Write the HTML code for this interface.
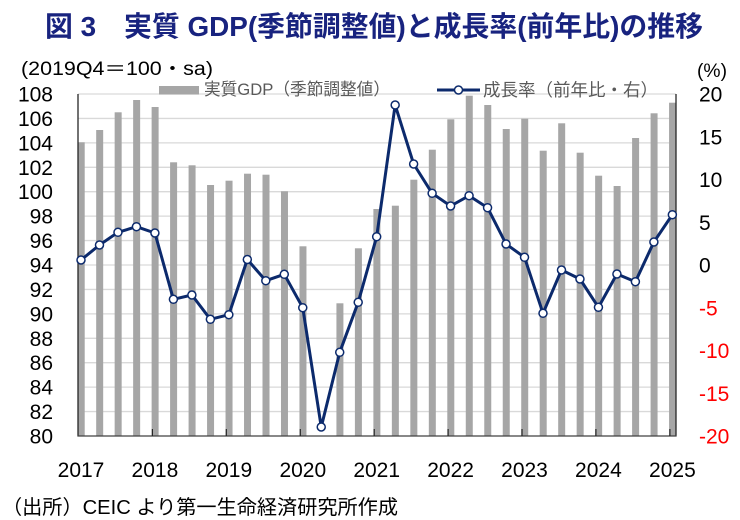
<!DOCTYPE html>
<html><head><meta charset="utf-8"><style>
html,body{margin:0;padding:0;background:#fff;}
svg{display:block;}
text{font-family:"Liberation Sans","Noto Sans CJK JP",sans-serif;}
</style></head><body>
<svg width="740" height="520" viewBox="0 0 740 520" xmlns="http://www.w3.org/2000/svg">
<rect width="740" height="520" fill="#fff"/>
<!-- title -->
<text x="45" y="36" font-size="28" font-weight="bold" fill="#18237f" textLength="658" lengthAdjust="spacingAndGlyphs">図 3　実質 GDP(季節調整値)と成長率(前年比)の推移</text>
<text x="21" y="75" font-size="19" fill="#000" textLength="192" lengthAdjust="spacingAndGlyphs">(2019Q4＝100・sa)</text>
<text x="697" y="77" font-size="19" fill="#000" textLength="30" lengthAdjust="spacingAndGlyphs">(%)</text>
<!-- gridlines -->
<g stroke="#d9d9d9" stroke-width="1.3">
<line x1="78" x2="676" y1="94" y2="94"/><line x1="78" x2="676" y1="118.43" y2="118.43"/><line x1="78" x2="676" y1="142.86" y2="142.86"/><line x1="78" x2="676" y1="167.29" y2="167.29"/><line x1="78" x2="676" y1="191.71" y2="191.71"/><line x1="78" x2="676" y1="216.14" y2="216.14"/><line x1="78" x2="676" y1="240.57" y2="240.57"/><line x1="78" x2="676" y1="265" y2="265"/><line x1="78" x2="676" y1="289.43" y2="289.43"/><line x1="78" x2="676" y1="313.86" y2="313.86"/><line x1="78" x2="676" y1="338.29" y2="338.29"/><line x1="78" x2="676" y1="362.71" y2="362.71"/><line x1="78" x2="676" y1="387.14" y2="387.14"/><line x1="78" x2="676" y1="411.57" y2="411.57"/>
</g>
<!-- bars -->
<g fill="#a6a6a6">
<rect x="77.7" y="142.3" width="7" height="293.7"/>
<rect x="96.18" y="130" width="7" height="306"/>
<rect x="114.66" y="112.3" width="7" height="323.7"/>
<rect x="133.14" y="100" width="7" height="336"/>
<rect x="151.62" y="107" width="7" height="329"/>
<rect x="170.1" y="162.3" width="7" height="273.7"/>
<rect x="188.58" y="165.3" width="7" height="270.7"/>
<rect x="207.06" y="185" width="7" height="251"/>
<rect x="225.54" y="180.7" width="7" height="255.3"/>
<rect x="244.02" y="173.7" width="7" height="262.3"/>
<rect x="262.5" y="174.7" width="7" height="261.3"/>
<rect x="280.98" y="191.3" width="7" height="244.7"/>
<rect x="299.46" y="246.3" width="7" height="189.7"/>
<rect x="336.42" y="303.3" width="7" height="132.7"/>
<rect x="354.9" y="248.3" width="7" height="187.7"/>
<rect x="373.38" y="209" width="7" height="227"/>
<rect x="391.86" y="205.7" width="7" height="230.3"/>
<rect x="410.34" y="179.7" width="7" height="256.3"/>
<rect x="428.82" y="149.7" width="7" height="286.3"/>
<rect x="447.3" y="119.3" width="7" height="316.7"/>
<rect x="465.78" y="95.7" width="7" height="340.3"/>
<rect x="484.26" y="105" width="7" height="331"/>
<rect x="502.74" y="129" width="7" height="307"/>
<rect x="521.22" y="118.7" width="7" height="317.3"/>
<rect x="539.7" y="150.7" width="7" height="285.3"/>
<rect x="558.18" y="123.3" width="7" height="312.7"/>
<rect x="576.66" y="152.7" width="7" height="283.3"/>
<rect x="595.14" y="175.7" width="7" height="260.3"/>
<rect x="613.62" y="186" width="7" height="250"/>
<rect x="632.1" y="138" width="7" height="298"/>
<rect x="650.58" y="113.3" width="7" height="322.7"/>
<rect x="669.06" y="102.7" width="7" height="333.3"/>
</g>
<!-- axes -->
<line x1="78" y1="94" x2="78" y2="436.5" stroke="#262626" stroke-width="1.3"/>
<line x1="676" y1="94" x2="676" y2="436.5" stroke="#262626" stroke-width="1.3"/>
<line x1="77.5" y1="436" x2="676.5" y2="436" stroke="#404040" stroke-width="1.3"/>
<g stroke="#262626" stroke-width="1.2">
<line x1="152.4" x2="152.4" y1="429" y2="436"/><line x1="226.3" x2="226.3" y1="429" y2="436"/><line x1="300.3" x2="300.3" y1="429" y2="436"/><line x1="374.2" x2="374.2" y1="429" y2="436"/><line x1="448.1" x2="448.1" y1="429" y2="436"/><line x1="522" x2="522" y1="429" y2="436"/><line x1="595.9" x2="595.9" y1="429" y2="436"/><line x1="669.9" x2="669.9" y1="429" y2="436"/>
</g>
<!-- line series -->
<polyline fill="none" stroke="#0c2a6c" stroke-width="3" stroke-linejoin="round" points="81,260 99.48,245 117.96,232.3 136.44,226.7 154.92,233 173.4,299.3 191.88,295 210.36,319.3 228.84,314.7 247.32,259.5 265.8,280.7 284.28,274.3 302.76,307.7 321.24,427 339.72,352.3 358.2,302.3 376.68,236.7 395.16,105 413.64,164 432.12,193.3 450.6,206 469.08,195.7 487.56,207.7 506.04,244 524.52,257.3 543,313.3 561.48,270 579.96,279 598.44,307.3 616.92,274 635.4,281.7 653.88,242 672.36,214.7"/>
<g fill="#fff" stroke="#0c2a6c" stroke-width="1.5">
<circle cx="81" cy="260" r="4"/><circle cx="99.48" cy="245" r="4"/><circle cx="117.96" cy="232.3" r="4"/><circle cx="136.44" cy="226.7" r="4"/><circle cx="154.92" cy="233" r="4"/><circle cx="173.4" cy="299.3" r="4"/><circle cx="191.88" cy="295" r="4"/><circle cx="210.36" cy="319.3" r="4"/><circle cx="228.84" cy="314.7" r="4"/><circle cx="247.32" cy="259.5" r="4"/><circle cx="265.8" cy="280.7" r="4"/><circle cx="284.28" cy="274.3" r="4"/><circle cx="302.76" cy="307.7" r="4"/><circle cx="321.24" cy="427" r="4"/><circle cx="339.72" cy="352.3" r="4"/><circle cx="358.2" cy="302.3" r="4"/><circle cx="376.68" cy="236.7" r="4"/><circle cx="395.16" cy="105" r="4"/><circle cx="413.64" cy="164" r="4"/><circle cx="432.12" cy="193.3" r="4"/><circle cx="450.6" cy="206" r="4"/><circle cx="469.08" cy="195.7" r="4"/><circle cx="487.56" cy="207.7" r="4"/><circle cx="506.04" cy="244" r="4"/><circle cx="524.52" cy="257.3" r="4"/><circle cx="543" cy="313.3" r="4"/><circle cx="561.48" cy="270" r="4"/><circle cx="579.96" cy="279" r="4"/><circle cx="598.44" cy="307.3" r="4"/><circle cx="616.92" cy="274" r="4"/><circle cx="635.4" cy="281.7" r="4"/><circle cx="653.88" cy="242" r="4"/><circle cx="672.36" cy="214.7" r="4"/>
</g>
<!-- legend -->
<rect x="159" y="86" width="40" height="8.5" fill="#a6a6a6"/>
<text x="204" y="95" font-size="17" fill="#595959" textLength="186" lengthAdjust="spacingAndGlyphs">実質GDP（季節調整値）</text>
<line x1="437" y1="90" x2="480" y2="90" stroke="#0c2a6c" stroke-width="3"/>
<circle cx="458.5" cy="90" r="4" fill="#fff" stroke="#0c2a6c" stroke-width="1.5"/>
<text x="483" y="96" font-size="17.5" fill="#595959" textLength="175" lengthAdjust="spacingAndGlyphs">成長率（前年比・右）</text>
<!-- left axis labels -->
<g font-size="21" fill="#000" text-anchor="end">
<text x="53" y="101.5">108</text><text x="53" y="125.9">106</text><text x="53" y="150.4">104</text><text x="53" y="174.8">102</text><text x="53" y="199.2">100</text><text x="53" y="223.6">98</text><text x="53" y="248.1">96</text><text x="53" y="272.5">94</text><text x="53" y="296.9">92</text><text x="53" y="321.4">90</text><text x="53" y="345.8">88</text><text x="53" y="370.2">86</text><text x="53" y="394.6">84</text><text x="53" y="419.1">82</text><text x="53" y="443.5">80</text>
</g>
<!-- right axis labels -->
<g font-size="21">
<text x="699" y="101.5" fill="#000">20</text>
<text x="699" y="144.3" fill="#000">15</text>
<text x="699" y="187" fill="#000">10</text>
<text x="699" y="229.8" fill="#000">5</text>
<text x="699" y="272.5" fill="#000">0</text>
<text x="699" y="315.3" fill="#ff0000">-5</text>
<text x="699" y="358" fill="#ff0000">-10</text>
<text x="699" y="400.8" fill="#ff0000">-15</text>
<text x="699" y="443.5" fill="#ff0000">-20</text>
</g>
<!-- year labels -->
<g font-size="21" fill="#000" text-anchor="middle">
<text x="81" y="477">2017</text><text x="154.9" y="477">2018</text><text x="228.8" y="477">2019</text><text x="302.8" y="477">2020</text><text x="376.7" y="477">2021</text><text x="450.6" y="477">2022</text><text x="524.5" y="477">2023</text><text x="598.4" y="477">2024</text><text x="672.4" y="477">2025</text>
</g>
<text x="2" y="514" font-size="20" fill="#000" textLength="396" lengthAdjust="spacingAndGlyphs">（出所）CEIC より第一生命経済研究所作成</text>
</svg>
</body></html>
